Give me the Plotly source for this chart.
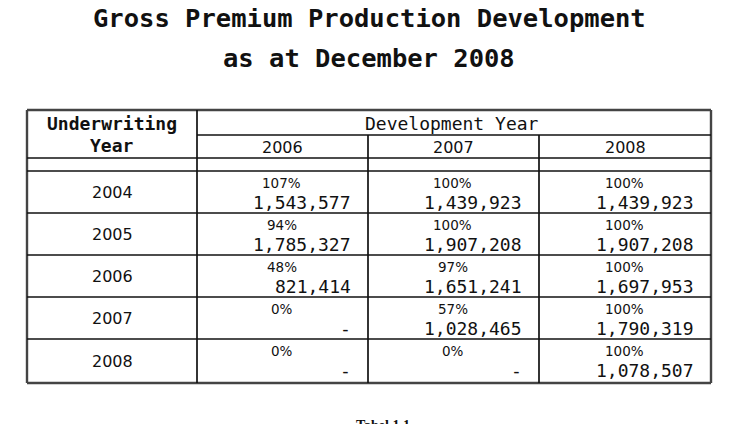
import plotly.graph_objects as go

uw_years = ["2004", "2005", "2006", "2007", "2008"]
dev_years = ["2006", "2007", "2008"]
pct = [
    ["107%", "100%", "100%"],
    ["94%", "100%", "100%"],
    ["48%", "97%", "100%"],
    ["0%", "57%", "100%"],
    ["0%", "0%", "100%"],
]
amounts = [
    [1543577, 1439923, 1439923],
    [1785327, 1907208, 1907208],
    [821414, 1651241, 1697953],
    [None, 1028465, 1790319],
    [None, None, 1078507],
]

# geometry of the table (page pixels)
col_x = [27, 197, 368, 539, 711]
hdr_y = [110, 135, 158, 171]
row_y = [171, 213, 255, 297, 339, 383]

mono = "DejaVu Sans Mono"
sans = "DejaVu Sans"
ink = "#111111"

fig = go.Figure()
shapes = []
ann = []


def hline(x0, x1, y, w=1.7, c=ink):
    shapes.append(dict(type="line", x0=x0, x1=x1, y0=y, y1=y,
                       line=dict(color=c, width=w)))


def vline(x, y0, y1, w=1.7, c=ink):
    shapes.append(dict(type="line", x0=x, x1=x, y0=y0, y1=y1,
                       line=dict(color=c, width=w)))


def text(x, y, s, size, family, xanchor="center", color=ink):
    ann.append(dict(x=x, y=y, text=s, showarrow=False, xanchor=xanchor,
                    yanchor="middle", font=dict(size=size, family=family, color=color)))


# outer border
top, bottom = hdr_y[0], row_y[-1]
hline(col_x[0], col_x[-1], top, 2.4, "#444")
hline(col_x[0], col_x[-1], bottom, 2.4, "#444")
vline(col_x[0], top, bottom, 2.4, "#444")
vline(col_x[-1], top, bottom, 2.4, "#444")

# inner lines
vline(col_x[1], top, bottom)
hline(col_x[1], col_x[-1], hdr_y[1])
for x in col_x[2:-1]:
    vline(x, hdr_y[1], bottom)
for y in hdr_y[2:] + row_y[1:-1]:
    hline(col_x[0], col_x[-1], y)

# titles
text(369, 18, "<b>Gross Premium Production Development</b>", 25.5, mono)
text(369, 58, "<b>as at December 2008</b>", 25.5, mono)

# header
cx0 = (col_x[0] + col_x[1]) / 2
text(cx0, 123, "<b>Underwriting</b>", 18, mono)
text(cx0, 145, "<b>Year</b>", 18, mono)
text((col_x[1] + col_x[-1]) / 2 - 2, 123, "Development Year", 18, mono)
for j, d in enumerate(dev_years):
    text((col_x[j + 1] + col_x[j + 2]) / 2, 147, d, 16, sans)

# body
for i, uw in enumerate(uw_years):
    y0, y1 = row_y[i], row_y[i + 1]
    text(cx0, (y0 + y1) / 2, uw, 16, sans)
    for j in range(len(dev_years)):
        xl, xr = col_x[j + 1], col_x[j + 2]
        text((xl + xr) / 2 - 1, y0 + 12, pct[i][j], 13.5, sans)
        v = amounts[i][j]
        s = f"{v:,}" if v is not None else "-"
        text(xr - 15, y0 + 31, s, 18, mono, xanchor="right")

# caption, cut off at the bottom of the page
ann.append(dict(x=383, y=416, text="<b>Tabel 1.1</b>", showarrow=False,
                xanchor="center", yanchor="top",
                font=dict(size=14, family="Liberation Serif", color=ink)))

# the page body has an 8px margin, so start the ranges at 8
fig.update_layout(
    width=736, height=424,
    margin=dict(l=0, r=0, t=0, b=0),
    paper_bgcolor="white", plot_bgcolor="white",
    xaxis=dict(range=[8, 744], visible=False, fixedrange=True),
    yaxis=dict(range=[432, 8], visible=False, fixedrange=True),
    shapes=shapes, annotations=ann, showlegend=False,
)

fig.write_html("out.html")
